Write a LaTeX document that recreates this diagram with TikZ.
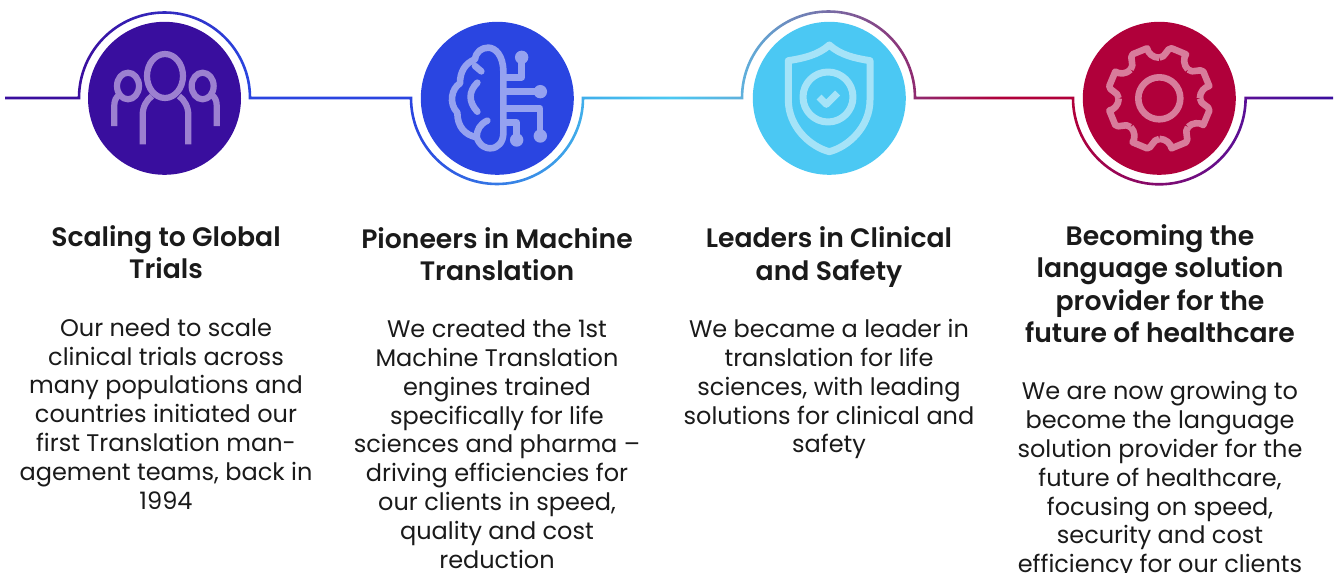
\documentclass[tikz,border=0pt]{standalone}
\usepackage{fontspec}
\setmainfont{Poppins}[BoldFont={Poppins SemiBold}]
\definecolor{c0}{HTML}{3A0E9E}\definecolor{c1}{HTML}{2A45E0}\definecolor{c2}{HTML}{40AEEA}
\definecolor{c3}{HTML}{4BC8F2}\definecolor{c4}{HTML}{5FB0DC}\definecolor{c5}{HTML}{8F2A70}
\definecolor{c6}{HTML}{B0003A}\definecolor{c7}{HTML}{800B70}\definecolor{c8}{HTML}{5A0F96}
\pgfdeclarehorizontalshading{lineshade}{100bp}{
 color(0bp)=(c0); color(27.95bp)=(c0); color(34.34bp)=(c1); color(40.35bp)=(c1);
 color(46.77bp)=(c2); color(50.02bp)=(c3); color(52.7bp)=(c4); color(59.17bp)=(c5);
 color(62.34bp)=(c6); color(65.07bp)=(c6); color(68.3bp)=(c7); color(71.5bp)=(c8);
 color(74.8bp)=(c0); color(100bp)=(c0)}
\definecolor{disc1}{HTML}{390E9E}\definecolor{disc2}{HTML}{2A45E1}
\definecolor{disc3}{HTML}{4BC8F3}\definecolor{disc4}{HTML}{B0003A}
\definecolor{ink1}{HTML}{9C80D0}\definecolor{ink2}{HTML}{95A2F0}
\definecolor{ink3}{HTML}{A5E3F8}\definecolor{ink4}{HTML}{D87C9B}
\definecolor{txt}{HTML}{1A1A1A}
\tikzset{
 disc/.style={circle,minimum size=153pt,inner sep=0pt,draw=none},
 head/.style={align=center,anchor=north,inner sep=0pt,text=txt,font=\fontsize{26.67}{32.3}\selectfont\bfseries},
 body/.style={align=center,anchor=north,inner sep=0pt,text=txt,font=\fontsize{24}{28.8}\selectfont},
 icon/.style={line cap=butt,line join=round,line width=6.2pt},
 zoomed/.style={x=.33333pt,y=-.33333pt}
}
\begin{document}
\begin{tikzpicture}[x=1pt,y=1pt]
\useasboundingbox (0,0) rectangle (1339,-573);
% gradient connector
\begin{scope}
\clip (5,-96.7) -- (77.7,-96.7) -- (77.7,-98) arc[start angle=180,end angle=0,radius=86.8pt] -- (251.3,-96.7)
 -- (412.3,-96.7) -- (412.3,-98) arc[start angle=180,end angle=360,radius=84.7pt] -- (581.7,-96.7)
 -- (740.7,-96.7) -- (740.7,-98) arc[start angle=180,end angle=0,radius=87.8pt] -- (916.3,-96.7)
 -- (1074.3,-96.7) -- (1074.3,-98) arc[start angle=180,end angle=360,radius=85pt] -- (1244.3,-96.7)
 -- (1333,-96.7) -- (1333,-99.3)
 -- (1246.9,-99.3) -- (1246.9,-98) arc[start angle=360,end angle=180,radius=87.6pt] -- (1071.7,-99.3)
 -- (913.7,-99.3) -- (913.7,-98) arc[start angle=0,end angle=180,radius=85.2pt] -- (743.3,-99.3)
 -- (584.3,-99.3) -- (584.3,-98) arc[start angle=360,end angle=180,radius=87.3pt] -- (409.7,-99.3)
 -- (248.7,-99.3) -- (248.7,-98) arc[start angle=0,end angle=180,radius=84.2pt] -- (80.3,-99.3)
 -- (5,-99.3) -- cycle;
\shade[shading=lineshade] (0,0) rectangle (1339,-573);
\end{scope}
% discs
\node[disc,fill=disc1] (d1) at (164.5,-98.3) {};
\node[disc,fill=disc2] (d2) at (497.3,-98.3) {};
\node[disc,fill=disc3] (d3) at (829.3,-98.3) {};
\node[disc,fill=disc4] (d4) at (1159.3,-98.3) {};
% people icon
\begin{scope}[shift={(0,0)},zoomed,icon,draw=ink1]
\draw (495,228) ellipse[x radius=18pt,y radius=22pt];
\draw (384,258) ellipse[x radius=11pt,y radius=13.3pt];
\draw (608,258) ellipse[x radius=11pt,y radius=13.3pt];
\draw (428,433) -- (428,345) .. controls (428,320) and (440,300) .. (456,288);
\draw (565,433) -- (565,345) .. controls (565,320) and (553,300) .. (537,288);
\draw (343,378) -- (343,315) .. controls (343,302) and (348,292) .. (358,284);
\draw (650,378) -- (650,315) .. controls (650,302) and (645,292) .. (635,284);
\end{scope}
% brain icon
\begin{scope}[shift={(340,0)},zoomed,icon,line width=6.6pt,draw=ink2,fill=ink2]
\draw[line cap=round] (490,400) -- (490,215) .. controls (490,165) and (465,143) .. (445,143) .. controls (425,143) and (408,155) .. (405,178)
 .. controls (375,190) and (360,215) .. (360,250) .. controls (335,265) and (325,310) .. (352,338)
 .. controls (352,380) and (375,405) .. (410,412) .. controls (420,440) and (440,445) .. (450,445) .. controls (475,445) and (490,425) .. (490,400);
\draw[line cap=round] (405,198) -- (424,214);
\draw[line cap=round] (412,248) .. controls (385,275) and (385,305) .. (412,335);
\draw[line cap=round] (442,362) .. controls (420,372) and (410,390) .. (410,412);
\draw (490,232) -- (545,232) -- (545,172);
\draw (490,275) -- (600,275);
\draw (490,325) -- (600,325) -- (600,408);
\draw (490,367) -- (530,367) -- (530,420);
\fill (545,172) circle[radius=6.7pt];
\fill (601,275) circle[radius=6.7pt];
\fill (601,408) circle[radius=6.7pt];
\fill (530,420) circle[radius=6.7pt];
\end{scope}
% shield icon
\begin{scope}[shift={(670,0)},zoomed,icon,line width=7pt,draw=ink3]
\draw (478,135) .. controls (445,165) and (400,175) .. (355,182) -- (355,300)
 .. controls (355,380) and (420,440) .. (478,455) .. controls (536,440) and (600,380) .. (600,300)
 -- (600,182) .. controls (555,175) and (511,165) .. (478,135) -- cycle;
\draw (474,291) circle[radius=25pt];
\draw (447,291) -- (469,313) -- (503,279);
\end{scope}
% gear icon
\begin{scope}[shift={(1159.3,-98.3)},zoomed,icon,line width=6.6pt,draw=ink4]
\draw (0,0) circle[radius=21pt];
\foreach \a in {0,45,...,315}{
 \draw[rotate=\a] (0,-122) .. controls (20,-122) and (22,-152) .. (37,-150) -- (80,-132)
   .. controls (72,-120) and (72,-100) .. (86,-86);
}
\end{scope}
% texts
\node[head] (h1) at (166,-225.5) {Scaling to Global\\Trials};
\node[head] (h2) at (497,-227.3) {Pioneers in Machine\\Translation};
\node[head] (h3) at (829,-226.8) {Leaders in Clinical\\and Safety};
\node[head] (h4) at (1160,-224.3) {Becoming the\\language solution\\provider for the\\future of healthcare};
\node[body] (b1) at (166,-318.3) {Our need to scale\\clinical trials across\\many populations and\\countries initiated our\\first Translation man-\\agement teams, back in\\1994};
\node[body] (b2) at (497,-319.8) {We created the 1st\\Machine Translation\\engines trained\\specifically for life\\sciences and pharma –\\driving efficiencies for\\our clients in speed,\\quality and cost\\reduction};
\node[body] (b3) at (829,-319.2) {We became a leader in\\translation for life\\sciences, with leading\\solutions for clinical and\\safety};
\node[body] (b4) at (1160,-381.5) {We are now growing to\\become the language\\solution provider for the\\future of healthcare,\\focusing on speed,\\security and cost\\efficiency for our clients};
\end{tikzpicture}
\end{document}
